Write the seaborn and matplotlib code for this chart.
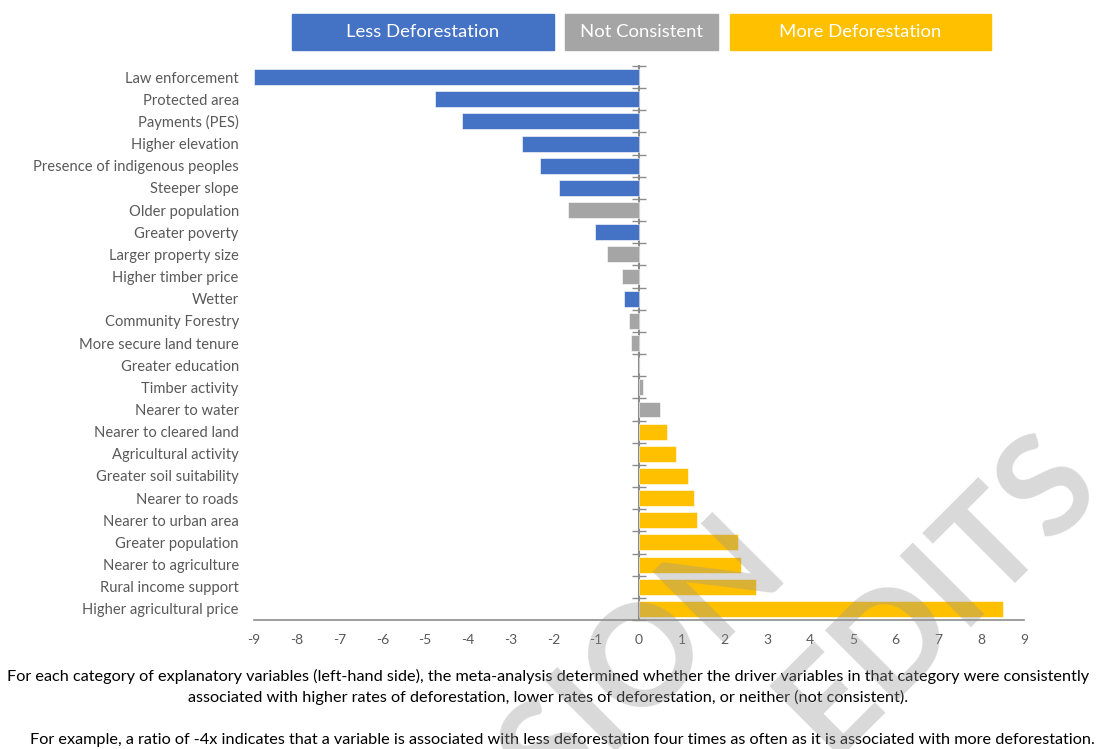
import pandas as pd
import matplotlib.pyplot as plt
import seaborn as sns
from matplotlib.patches import Rectangle

# Explanatory variables (top to bottom) and their ratio values
categories = [
    "Law enforcement", "Protected area", "Payments (PES)", "Higher elevation",
    "Presence of indigenous peoples", "Steeper slope", "Older population",
    "Greater poverty", "Larger property size", "Higher timber price", "Wetter",
    "Community Forestry", "More secure land tenure", "Greater education",
    "Timber activity", "Nearer to water", "Nearer to cleared land",
    "Agricultural activity", "Greater soil suitability", "Nearer to roads",
    "Nearer to urban area", "Greater population", "Nearer to agriculture",
    "Rural income support", "Higher agricultural price",
]
ratios = [-9.0, -4.78, -4.15, -2.73, -2.32, -1.87, -1.65, -1.04, -0.75, -0.40,
          -0.35, -0.23, -0.18, 0.0, 0.10, 0.48, 0.66, 0.86, 1.15, 1.28, 1.36,
          2.31, 2.39, 2.73, 8.51]
effects = ["Less"] * 6 + ["Not"] + ["Less"] + ["Not"] * 2 + ["Less"] + ["Not"] * 5 + ["More"] * 9

legend_labels = ["Less Deforestation", "Not Consistent", "More Deforestation"]
xticks = list(range(-9, 10))

colors = {"Less": "#4472C4", "Not": "#A5A5A5", "More": "#FFC000"}
axis_grey = "#8C8C8C"
text_grey = "#595959"

df = pd.DataFrame({"variable": categories, "ratio": ratios, "effect": effects})

sns.set_style("white")
plt.rcParams["font.family"] = ["Lato", "DejaVu Sans"]
plt.rcParams["axes.unicode_minus"] = False

fig = plt.figure(figsize=(10.96, 7.49), dpi=100)
ax = fig.add_axes([0.2318, 0.1722, 0.7025, 0.7397])

sns.barplot(data=df, x="ratio", y="variable", hue="effect", palette=colors,
            dodge=False, width=0.72, legend=False, orient="h", saturation=1,
            edgecolor="white", linewidth=0.4, ax=ax)

ax.set_xlim(-9, 9)
ax.set_ylim(len(categories) - 0.5, -0.5)
ax.set_xticks(xticks)
ax.set_xlabel("")
ax.set_ylabel("")

for side in ["left", "right", "top"]:
    ax.spines[side].set_visible(False)
ax.spines["bottom"].set_color(axis_grey)
ax.spines["bottom"].set_linewidth(1.2)
ax.tick_params(axis="x", direction="out", length=5, width=1, color=axis_grey,
               labelsize=10, labelcolor=text_grey, pad=5)
ax.tick_params(axis="y", length=0, labelsize=10.6, labelcolor=text_grey, pad=11)

# vertical axis crossing at zero with tick marks between categories
sec = ax.secondary_yaxis(0.5)
sec.set_yticks([k - 0.5 for k in range(len(categories) + 1)])
sec.set_yticklabels([])
sec.spines["right"].set_color(axis_grey)
sec.spines["right"].set_linewidth(1.5)
sec.tick_params(direction="inout", length=10, width=1, color=axis_grey)

# coloured legend boxes at the top
box_x = [292, 565, 730]
box_w = [262, 153, 261]
for lab, key, x0, w in zip(legend_labels, ["Less", "Not", "More"], box_x, box_w):
    fig.patches.append(Rectangle((x0 / 1096, 1 - 50 / 749), w / 1096, 36 / 749,
                                 transform=fig.transFigure, color=colors[key]))
    fig.text((x0 + w / 2) / 1096, 1 - 32 / 749, lab, ha="center", va="center",
             color="white", fontsize=13.3)

# caption
fig.text(0.5, 1 - 676 / 749,
         "For each category of explanatory variables (left-hand side), the meta-analysis "
         "determined whether the driver variables in that category were consistently",
         ha="center", va="center", fontsize=11.7, color="black")
fig.text(0.5, 1 - 697 / 749,
         "associated with higher rates of deforestation, lower rates of deforestation, "
         "or neither (not consistent).",
         ha="center", va="center", fontsize=11.7, color="black")
fig.text(30 / 1096, 1 - 740 / 749,
         "For example, a ratio of -4x indicates that a variable is associated with less "
         "deforestation four times as often as it is associated with more deforestation.",
         ha="left", va="center", fontsize=11.7, color="black")

# watermark
for word, cx, cy in [("SION", 636, 655), ("EDITS", 930, 584)]:
    fig.text(cx / 1096, 1 - cy / 749, word, rotation=45, rotation_mode="anchor",
             ha="center", va="center_baseline", fontsize=100, fontweight="bold",
             color="#969696", alpha=0.36, zorder=10)

fig.savefig("out.png", dpi=100)
